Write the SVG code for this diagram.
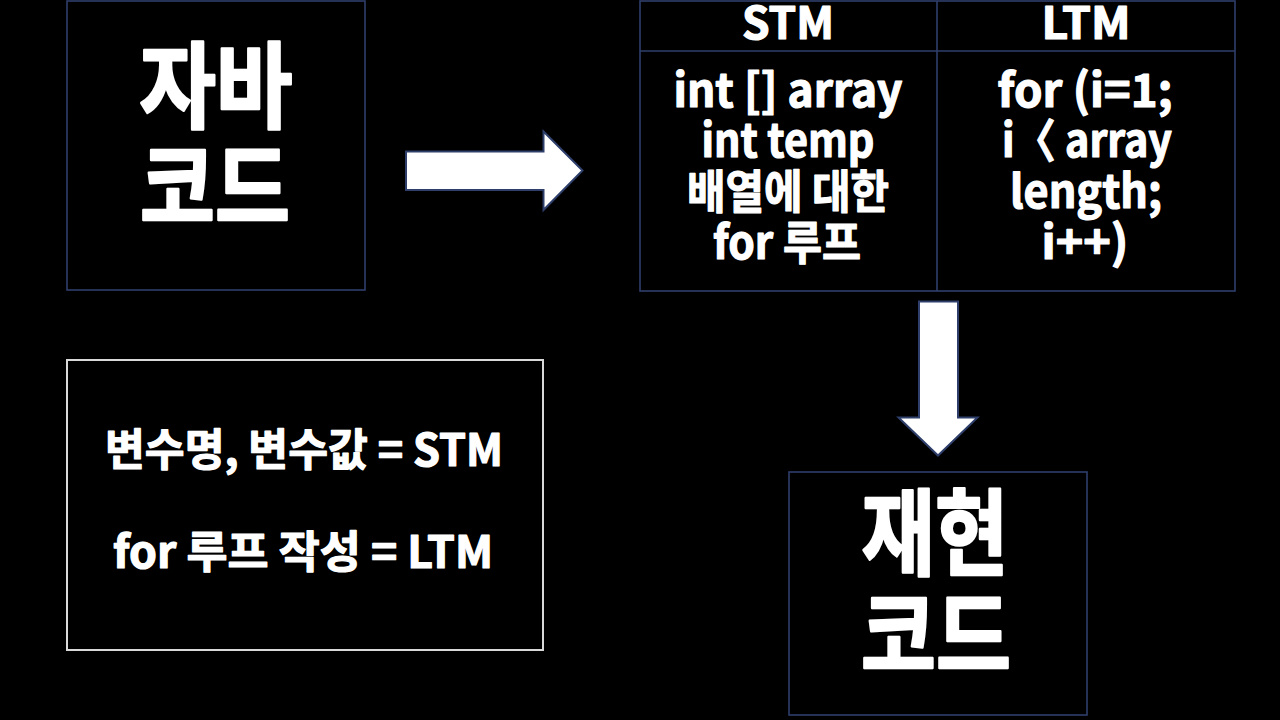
<svg xmlns="http://www.w3.org/2000/svg" width="1280" height="720" viewBox="0 0 1280 720">
<style>
.bg{fill:#000}
.nv{fill:none;stroke:#2f3f6b;stroke-width:1.6}
.wb{fill:none;stroke:#d9d9d9;stroke-width:2}
.t{fill:#fff;stroke:#fff;stroke-width:1.2;stroke-linejoin:round;font-family:"Noto Sans CJK KR","Noto Sans",sans-serif;font-weight:700;text-anchor:middle}
.big{font-size:94px;stroke-width:2.5}
.hd{font-size:44px}
.bd{font-size:46px}
.nt{font-size:44px}
.ar{fill:#fff;stroke:#2f3f6b;stroke-width:2;stroke-linejoin:miter}
</style>
<rect class="bg" x="0" y="0" width="1280" height="720"/>
<g id="java-code">
<rect class="nv" x="67" y="1" width="298" height="289"/>
<text class="t big" x="216" y="121" textLength="153" lengthAdjust="spacingAndGlyphs">자바</text>
<text class="t big" x="215" y="222" textLength="150" lengthAdjust="spacingAndGlyphs">코드</text>
</g>
<g id="memory-table">
<rect class="nv" x="640" y="1" width="595" height="290"/>
<line class="nv" x1="640" y1="51" x2="1235" y2="51"/>
<line class="nv" x1="937" y1="1" x2="937" y2="291"/>
<text class="t hd" x="788" y="39" textLength="92" lengthAdjust="spacingAndGlyphs">STM</text>
<text class="t hd" x="1086" y="39" textLength="89" lengthAdjust="spacingAndGlyphs">LTM</text>
<text class="t bd" x="788" y="107" textLength="229" lengthAdjust="spacingAndGlyphs">int [] array</text>
<text class="t bd" x="788" y="157" textLength="173" lengthAdjust="spacingAndGlyphs">int temp</text>
<text class="t bd" x="788" y="208" textLength="202" lengthAdjust="spacingAndGlyphs">배열에 대한</text>
<text class="t bd" x="787" y="259" textLength="148" lengthAdjust="spacingAndGlyphs">for 루프</text>
<text class="t bd" x="1085" y="107" textLength="175" lengthAdjust="spacingAndGlyphs">for (i=1;</text>
<text class="t bd" x="1087" y="157" textLength="170" lengthAdjust="spacingAndGlyphs">i〈 array</text>
<text class="t bd" x="1086" y="208" textLength="152" lengthAdjust="spacingAndGlyphs">length;</text>
<text class="t bd" x="1085" y="259" textLength="87" lengthAdjust="spacingAndGlyphs">i++)</text>
</g>
<g id="note">
<rect class="wb" x="67" y="360" width="476" height="290"/>
<text class="t nt" x="304" y="466" textLength="398" lengthAdjust="spacingAndGlyphs">변수명, 변수값 = STM</text>
<text class="t nt" x="303" y="568" textLength="380" lengthAdjust="spacingAndGlyphs">for 루프 작성 = LTM</text>
</g>
<g id="reproduced-code">
<rect class="nv" x="789" y="472" width="298" height="243"/>
<text class="t big" x="935" y="568" textLength="147" lengthAdjust="spacingAndGlyphs">재현</text>
<text class="t big" x="936" y="670" textLength="150" lengthAdjust="spacingAndGlyphs">코드</text>
</g>
<g id="connectors">
<polygon class="ar" points="406,151.5 543.5,151.5 543.5,131.5 582.5,170.5 543.5,210 543.5,190 406,190"/>
<polygon class="ar" points="919,301.5 958,301.5 958,417.5 977.5,417.5 938,455.5 898.5,417.5 919,417.5"/>
</g>
</svg>
